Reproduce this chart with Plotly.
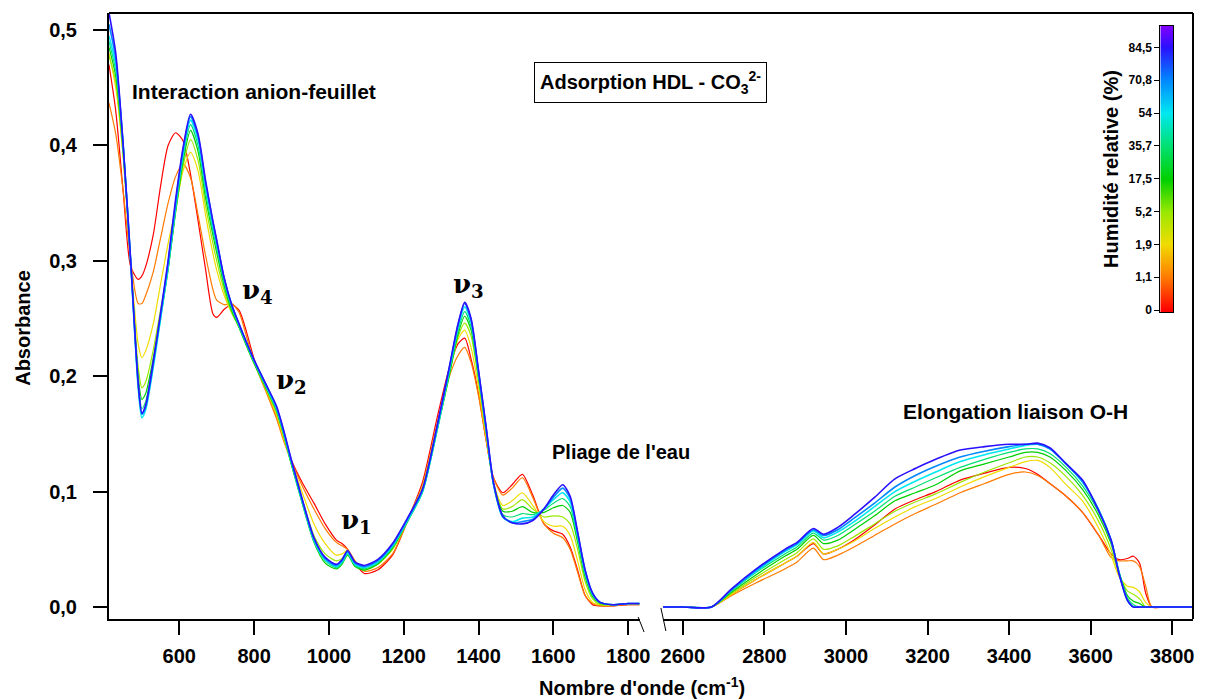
import plotly.graph_objects as go

# ---------------- data ----------------
HUMIDITY_LABELS = ["0", "1,1", "1,9", "5,2", "17,5", "35,7", "54", "70,8", "84,5"]
CURVE_COLORS = ["#ff0000", "#ff7a00", "#f0dc00", "#9be800", "#00d000",
                "#00e070", "#00e8f0", "#0088ff", "#2a10ff"]
TOP_COLOR = "#8000ff"
BAR_TOP = 8.65

# wavenumbers (cm-1), low-frequency segment
WN_LOW = [412, 430, 450, 470, 490, 500, 510, 530, 550, 570, 590, 610, 630, 650, 670,
          690, 700, 720, 740, 760, 780, 800, 830, 860, 880, 900, 930, 960, 990, 1020,
          1035, 1050, 1070, 1095, 1130, 1170, 1210, 1250, 1290, 1320, 1345, 1363, 1380,
          1400, 1420, 1440, 1465, 1490, 1517, 1545, 1575, 1600, 1625, 1645, 1665, 1685,
          1705, 1725, 1760, 1800, 1830]

# wavenumbers (cm-1), O-H segment
WN_HIGH = [2550, 2600, 2670, 2720, 2780, 2850, 2880, 2920, 2945, 2980, 3020, 3070, 3120,
           3170, 3220, 3280, 3340, 3400, 3440, 3470, 3500, 3540, 3580, 3620, 3650, 3670,
           3690, 3705, 3720, 3735, 3750, 3780, 3820, 3850]

ABS_LOW_0 = [0.47, 0.43, 0.36, 0.295, 0.284, 0.287, 0.295, 0.322, 0.365, 0.40, 0.411, 0.404,
             0.375, 0.335, 0.293, 0.254, 0.251, 0.258, 0.262, 0.257, 0.238, 0.215, 0.19, 0.165,
             0.145, 0.127, 0.107, 0.09, 0.072, 0.058, 0.055, 0.05, 0.038, 0.029, 0.032, 0.045,
             0.075, 0.108, 0.165, 0.205, 0.228, 0.233, 0.215, 0.185, 0.145, 0.112, 0.099,
             0.106, 0.115, 0.097, 0.072, 0.066, 0.063, 0.052, 0.032, 0.01, 0.002, 0.001,
             0.001, 0.002, 0.002]
ABS_LOW_1 = [0.437, 0.41, 0.36, 0.30, 0.263, 0.263, 0.27, 0.29, 0.32, 0.35, 0.373, 0.384,
             0.372, 0.34, 0.305, 0.275, 0.266, 0.262, 0.263, 0.255, 0.234, 0.212, 0.188,
             0.163, 0.143, 0.126, 0.104, 0.085, 0.068, 0.056, 0.053, 0.05, 0.04, 0.031,
             0.034, 0.046, 0.074, 0.105, 0.16, 0.198, 0.218, 0.225, 0.212, 0.183, 0.145,
             0.112, 0.097, 0.103, 0.112, 0.095, 0.072, 0.064, 0.06, 0.05, 0.03, 0.01, 0.003,
             0.001, 0.001, 0.002, 0.002]
ABS_LOW_2 = [0.48, 0.45, 0.39, 0.30, 0.228, 0.216, 0.222, 0.245, 0.28, 0.315, 0.345, 0.378,
             0.394, 0.378, 0.34, 0.306, 0.292, 0.27, 0.255, 0.244, 0.229, 0.213, 0.19, 0.166,
             0.145, 0.125, 0.098, 0.072, 0.055, 0.045, 0.046, 0.049, 0.038, 0.033, 0.037,
             0.05, 0.076, 0.104, 0.158, 0.2, 0.232, 0.24, 0.225, 0.19, 0.148, 0.108, 0.088,
             0.092, 0.099, 0.088, 0.074, 0.07, 0.07, 0.062, 0.04, 0.015, 0.004, 0.002, 0.002,
             0.003, 0.003]
ABS_LOW_3 = [0.478, 0.455, 0.39, 0.30, 0.208, 0.19, 0.195, 0.222, 0.258, 0.295, 0.342, 0.382,
             0.405, 0.387, 0.348, 0.315, 0.30, 0.274, 0.255, 0.242, 0.226, 0.211, 0.19, 0.168,
             0.147, 0.123, 0.092, 0.062, 0.046, 0.04, 0.042, 0.047, 0.036, 0.032, 0.037,
             0.05, 0.074, 0.101, 0.155, 0.198, 0.234, 0.246, 0.235, 0.196, 0.151, 0.107,
             0.085, 0.087, 0.093, 0.085, 0.078, 0.079, 0.078, 0.072, 0.05, 0.022, 0.007,
             0.002, 0.002, 0.003, 0.003]
ABS_LOW_4 = [0.485, 0.46, 0.395, 0.30, 0.20, 0.18, 0.185, 0.215, 0.252, 0.292, 0.342, 0.386,
             0.413, 0.395, 0.355, 0.322, 0.307, 0.278, 0.257, 0.242, 0.226, 0.211, 0.191,
             0.17, 0.148, 0.123, 0.088, 0.056, 0.038, 0.033, 0.037, 0.045, 0.035, 0.032,
             0.037, 0.051, 0.074, 0.10, 0.154, 0.198, 0.236, 0.252, 0.24, 0.199, 0.153,
             0.107, 0.083, 0.083, 0.087, 0.082, 0.082, 0.086, 0.088, 0.082, 0.056, 0.026,
             0.009, 0.003, 0.002, 0.003, 0.003]
ABS_LOW_5 = [0.49, 0.465, 0.40, 0.30, 0.195, 0.172, 0.178, 0.21, 0.25, 0.293, 0.344, 0.39,
             0.418, 0.40, 0.36, 0.326, 0.311, 0.281, 0.259, 0.243, 0.227, 0.212, 0.192,
             0.171, 0.149, 0.124, 0.089, 0.057, 0.04, 0.034, 0.038, 0.046, 0.036, 0.033,
             0.038, 0.052, 0.074, 0.099, 0.154, 0.20, 0.239, 0.256, 0.243, 0.201, 0.154,
             0.106, 0.08, 0.078, 0.081, 0.08, 0.084, 0.09, 0.094, 0.087, 0.059, 0.028, 0.01,
             0.004, 0.002, 0.003, 0.003]
ABS_LOW_6 = [0.495, 0.47, 0.40, 0.298, 0.19, 0.164, 0.171, 0.207, 0.25, 0.295, 0.347, 0.393,
             0.422, 0.405, 0.365, 0.33, 0.315, 0.284, 0.261, 0.244, 0.228, 0.213, 0.193,
             0.172, 0.15, 0.125, 0.09, 0.058, 0.041, 0.035, 0.039, 0.047, 0.037, 0.034,
             0.039, 0.053, 0.075, 0.10, 0.155, 0.202, 0.242, 0.26, 0.247, 0.203, 0.155,
             0.106, 0.078, 0.074, 0.077, 0.078, 0.085, 0.093, 0.099, 0.091, 0.062, 0.03,
             0.011, 0.004, 0.002, 0.003, 0.003]
ABS_LOW_7 = [0.505, 0.475, 0.40, 0.30, 0.193, 0.167, 0.173, 0.21, 0.253, 0.298, 0.35, 0.396,
             0.425, 0.408, 0.368, 0.333, 0.317, 0.285, 0.262, 0.245, 0.229, 0.214, 0.194,
             0.173, 0.151, 0.126, 0.091, 0.059, 0.042, 0.036, 0.04, 0.048, 0.038, 0.035,
             0.04, 0.054, 0.076, 0.101, 0.157, 0.204, 0.244, 0.263, 0.249, 0.204, 0.156,
             0.107, 0.078, 0.073, 0.074, 0.076, 0.085, 0.095, 0.103, 0.094, 0.064, 0.032,
             0.012, 0.004, 0.002, 0.003, 0.003]
ABS_LOW_8 = [0.515, 0.48, 0.40, 0.30, 0.195, 0.168, 0.175, 0.212, 0.255, 0.30, 0.353, 0.398,
             0.427, 0.41, 0.37, 0.334, 0.318, 0.285, 0.262, 0.245, 0.229, 0.214, 0.194,
             0.174, 0.152, 0.127, 0.092, 0.06, 0.043, 0.037, 0.041, 0.049, 0.039, 0.036,
             0.041, 0.055, 0.077, 0.102, 0.158, 0.205, 0.245, 0.264, 0.25, 0.205, 0.157,
             0.108, 0.079, 0.073, 0.072, 0.075, 0.085, 0.097, 0.106, 0.096, 0.065, 0.032,
             0.012, 0.004, 0.002, 0.003, 0.003]

ABS_HIGH_0 = [0.0, 0.0, 0.0, 0.011, 0.024, 0.038, 0.044, 0.055, 0.046, 0.05, 0.058, 0.071,
              0.085, 0.093, 0.10, 0.11, 0.116, 0.121, 0.12, 0.115, 0.107, 0.096, 0.082,
              0.062, 0.046, 0.041, 0.042, 0.044, 0.038, 0.012, 0.0, 0.0, 0.0, 0.0]
ABS_HIGH_1 = [0.0, 0.0, 0.0, 0.01, 0.021, 0.033, 0.039, 0.051, 0.041, 0.045, 0.052, 0.062,
              0.072, 0.081, 0.089, 0.099, 0.107, 0.115, 0.117, 0.114, 0.107, 0.096, 0.082,
              0.062, 0.043, 0.04, 0.04, 0.04, 0.035, 0.018, 0.0, 0.0, 0.0, 0.0]
ABS_HIGH_2 = [0.0, 0.0, 0.0, 0.011, 0.024, 0.038, 0.044, 0.056, 0.046, 0.05, 0.057, 0.068,
              0.078, 0.087, 0.094, 0.104, 0.113, 0.121, 0.126, 0.127, 0.121, 0.106, 0.092,
              0.068, 0.045, 0.026, 0.018, 0.017, 0.013, 0.004, 0.0, 0.0, 0.0, 0.0]
ABS_HIGH_3 = [0.0, 0.0, 0.0, 0.012, 0.026, 0.041, 0.047, 0.059, 0.05, 0.053, 0.061, 0.072,
              0.083, 0.091, 0.098, 0.108, 0.117, 0.125, 0.13, 0.13, 0.125, 0.113, 0.097,
              0.074, 0.05, 0.028, 0.014, 0.011, 0.007, 0.0, 0.0, 0.0, 0.0, 0.0]
ABS_HIGH_4 = [0.0, 0.0, 0.0, 0.013, 0.028, 0.044, 0.05, 0.062, 0.055, 0.058, 0.067, 0.079,
              0.092, 0.099, 0.106, 0.118, 0.124, 0.13, 0.134, 0.134, 0.13, 0.118, 0.102,
              0.079, 0.055, 0.03, 0.01, 0.005, 0.003, 0.0, 0.0, 0.0, 0.0, 0.0]
ABS_HIGH_5 = [0.0, 0.0, 0.0, 0.014, 0.03, 0.046, 0.052, 0.064, 0.058, 0.062, 0.071, 0.083,
              0.096, 0.104, 0.112, 0.121, 0.128, 0.134, 0.137, 0.137, 0.133, 0.121, 0.105,
              0.082, 0.058, 0.03, 0.008, 0.002, 0.0, 0.0, 0.0, 0.0, 0.0, 0.0]
ABS_HIGH_6 = [0.0, 0.0, 0.0, 0.015, 0.031, 0.048, 0.054, 0.066, 0.06, 0.065, 0.074, 0.087,
              0.10, 0.109, 0.117, 0.126, 0.132, 0.137, 0.14, 0.141, 0.137, 0.124, 0.108,
              0.084, 0.058, 0.029, 0.006, 0.0, 0.0, 0.0, 0.0, 0.0, 0.0, 0.0]
ABS_HIGH_7 = [0.0, 0.0, 0.0, 0.015, 0.032, 0.049, 0.055, 0.067, 0.062, 0.067, 0.077, 0.09,
              0.104, 0.114, 0.122, 0.13, 0.135, 0.139, 0.141, 0.141, 0.137, 0.124, 0.109,
              0.084, 0.058, 0.029, 0.006, 0.0, 0.0, 0.0, 0.0, 0.0, 0.0, 0.0]
ABS_HIGH_8 = [0.0, 0.0, 0.0, 0.016, 0.033, 0.05, 0.056, 0.068, 0.063, 0.069, 0.08, 0.095,
              0.111, 0.12, 0.128, 0.136, 0.139, 0.141, 0.141, 0.142, 0.138, 0.124, 0.11,
              0.083, 0.058, 0.028, 0.006, 0.0, 0.0, 0.0, 0.0, 0.0, 0.0, 0.0]

ABS_LOW = [ABS_LOW_0, ABS_LOW_1, ABS_LOW_2, ABS_LOW_3, ABS_LOW_4,
           ABS_LOW_5, ABS_LOW_6, ABS_LOW_7, ABS_LOW_8]
ABS_HIGH = [ABS_HIGH_0, ABS_HIGH_1, ABS_HIGH_2, ABS_HIGH_3, ABS_HIGH_4,
            ABS_HIGH_5, ABS_HIGH_6, ABS_HIGH_7, ABS_HIGH_8]

Y_TICKS = [0.0, 0.1, 0.2, 0.3, 0.4, 0.5]
Y_TICK_LABELS = ["0,0", "0,1", "0,2", "0,3", "0,4", "0,5"]
X_TICKS_LOW = [600, 800, 1000, 1200, 1400, 1600, 1800]
X_TICKS_HIGH = [2600, 2800, 3000, 3200, 3400, 3600, 3800]

# ---------------- figure geometry (page pixels; the page body adds an 8px margin) ----
OFF = 8
W, H = 1208 - OFF, 700 - OFF
PLOT_L, PLOT_R, PLOT_T, PLOT_B = 109, 1203, 13, 619        # page pixels
ML, MR, MT, MB = PLOT_L - OFF, (W + OFF) - PLOT_R, PLOT_T - OFF, (H + OFF) - PLOT_B
PW, PH = PLOT_R - PLOT_L, PLOT_B - PLOT_T


def px(x):
    return (x - PLOT_L) / PW


def py(y):
    return (PLOT_B - y) / PH


FONT = "Liberation Sans, Arial, sans-serif"
fig = go.Figure()

for i in range(len(HUMIDITY_LABELS)):
    lw = 1.2 if i < 6 else 1.6
    fig.add_trace(go.Scatter(x=WN_LOW, y=ABS_LOW[i], mode="lines", xaxis="x", yaxis="y",
                             line=dict(color=CURVE_COLORS[i], width=lw, shape="spline",
                                       smoothing=0.7),
                             name=HUMIDITY_LABELS[i], showlegend=False, hoverinfo="skip"))
    fig.add_trace(go.Scatter(x=WN_HIGH, y=ABS_HIGH[i], mode="lines", xaxis="x2", yaxis="y",
                             line=dict(color=CURVE_COLORS[i], width=lw, shape="spline",
                                       smoothing=0.7),
                             name=HUMIDITY_LABELS[i], showlegend=False, hoverinfo="skip"))

# colour bar built as a smooth heatmap on its own small axes
n = len(HUMIDITY_LABELS)
bar_levels = list(range(n)) + [BAR_TOP]
colorscale = [[i / BAR_TOP, CURVE_COLORS[i]] for i in range(n)] + [[1.0, TOP_COLOR]]
fig.add_trace(go.Heatmap(z=[[v, v] for v in bar_levels], y=bar_levels, x=[0, 1],
                         xaxis="x3", yaxis="y3", colorscale=colorscale, zmin=0, zmax=BAR_TOP,
                         zsmooth="best", showscale=False, hoverinfo="skip"))

axis_common = dict(showline=True, linecolor="black", linewidth=2, ticks="outside",
                   ticklen=14, tickwidth=2, tickcolor="black", showgrid=False, zeroline=False,
                   tickfont=dict(family=FONT, size=20, color="black", weight="bold"))

fig.update_layout(
    width=W, height=H,
    margin=dict(l=ML, r=MR, t=MT, b=MB),
    paper_bgcolor="white", plot_bgcolor="white",
    font=dict(family=FONT, size=14, color="black"),
    xaxis=dict(domain=[0, px(645)], range=[412, 1832], tickvals=X_TICKS_LOW,
               anchor="y", ticklabelstandoff=4, **axis_common),
    xaxis2=dict(domain=[px(668), 1], range=[2551, 3851], tickvals=X_TICKS_HIGH,
                anchor="y", ticklabelstandoff=4, **axis_common),
    yaxis=dict(range=[-0.0104, 0.5148], tickvals=Y_TICKS, ticktext=Y_TICK_LABELS,
               anchor="x", ticklabelstandoff=12, **axis_common),
    xaxis3=dict(domain=[px(1170), px(1183)], range=[0, 1], anchor="y3",
                showline=True, mirror=True, linecolor="black", linewidth=1,
                showticklabels=False, ticks="", showgrid=False, zeroline=False),
    yaxis3=dict(domain=[py(312), py(26)], range=[-0.06, BAR_TOP], anchor="x3", side="left",
                tickvals=list(range(n)), ticktext=HUMIDITY_LABELS,
                showline=True, mirror=True, linecolor="black", linewidth=1,
                ticks="outside", ticklen=5, tickwidth=1, tickcolor="black",
                showgrid=False, zeroline=False,
                tickfont=dict(family=FONT, size=12, color="black", weight="bold"),
                title=dict(text="Humidité relative (%)", standoff=4,
                           font=dict(family=FONT, size=20, color="black", weight="bold"))),
    showlegend=False,
)

# frame: top and right borders
fig.add_shape(type="line", xref="paper", yref="paper", x0=0, x1=1, y0=1, y1=1,
              line=dict(color="black", width=2))
fig.add_shape(type="line", xref="paper", yref="paper", x0=1, x1=1, y0=0, y1=1,
              line=dict(color="black", width=2))
# axis break marks
fig.add_shape(type="line", xref="paper", yref="paper", x0=px(643), x1=px(649),
              y0=py(617), y1=py(632), line=dict(color="black", width=1))
fig.add_shape(type="line", xref="paper", yref="paper", x0=px(666), x1=px(671),
              y0=py(608), y1=py(631), line=dict(color="black", width=1))


def label(text, x, y, size=21, xanchor="left", **kw):
    fig.add_annotation(text=text, xref="paper", yref="paper", x=px(x), y=py(y),
                       xanchor=xanchor, yanchor="middle", showarrow=False,
                       font=dict(family=FONT, size=size, color="black", weight="bold"), **kw)


label("Interaction anion-feuillet", 130, 91)
label("Pliage de l'eau", 554, 452, size=20)
label("Elongation liaison O-H", 908, 411)
label("Adsorption HDL - CO<sub>3</sub><sup>2-</sup>", 655, 83, size=20, xanchor="center",
      bordercolor="black", borderwidth=1, borderpad=5)
label("Absorbance", 22, 328, size=20, xanchor="center", textangle=-90)
label("Nombre d'onde (cm<sup>-1</sup>)", 647, 686, size=20, xanchor="center")

NU = "DejaVu Serif, Liberation Serif, serif"
for txt, x, y in [("ν<sub>4</sub>", 241, 291), ("ν<sub>2</sub>", 276, 381),
                  ("ν<sub>1</sub>", 341, 521), ("ν<sub>3</sub>", 454, 285)]:
    fig.add_annotation(text=txt, xref="paper", yref="paper", x=px(x), y=py(y),
                       xanchor="left", yanchor="middle", showarrow=False,
                       font=dict(family=NU, size=26, color="black", weight="bold"))

fig.write_html("out.html")
